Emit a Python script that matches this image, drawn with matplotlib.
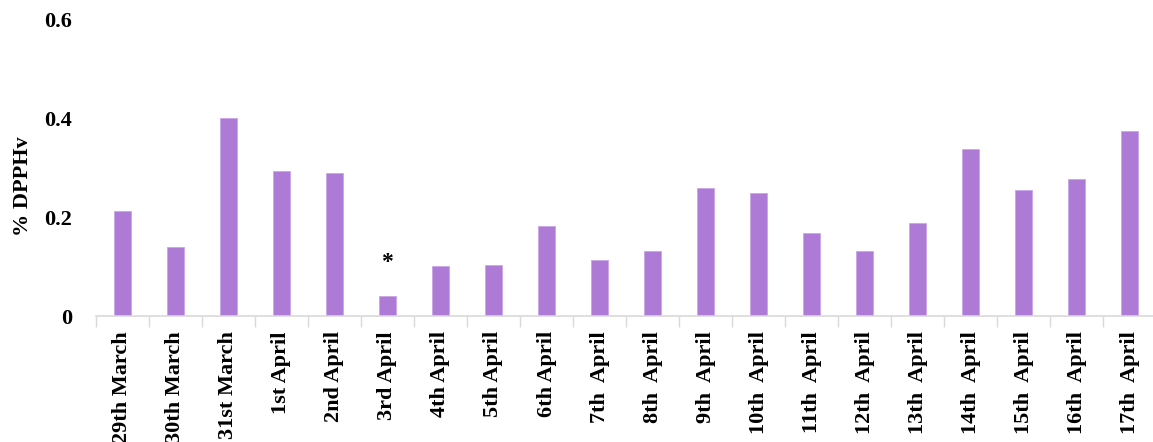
import matplotlib
matplotlib.use("Agg")
import matplotlib.pyplot as plt
import numpy as np

dates = ["29th March", "30th March", "31st March", "1st April", "2nd April",
         "3rd April", "4th April", "5th April", "6th April", "7th  April",
         "8th  April", "9th  April", "10th  April", "11th  April", "12th  April",
         "13th  April", "14th  April", "15th  April", "16th  April", "17th  April"]
dpph = [0.212, 0.139, 0.402, 0.293, 0.289, 0.040, 0.101, 0.103, 0.182, 0.113,
        0.131, 0.259, 0.250, 0.168, 0.131, 0.188, 0.339, 0.255, 0.277, 0.374]
marked = ["3rd April"]
yticks = [0, 0.2, 0.4, 0.6]
ytick_labels = ["0", "0.2", "0.4", "0.6"]

plt.rcParams["font.family"] = ["Liberation Serif", "DejaVu Serif"]
plt.rcParams["font.weight"] = "bold"

fig = plt.figure(figsize=(11.53, 4.42), dpi=100)
ax = fig.add_axes([0.083, 0.285, 0.92, 0.67])

x = np.arange(len(dates))
ax.bar(x, dpph, width=0.32, color="#AD7BD6", edgecolor="#C9A6E6", linewidth=0.6, zorder=2)

for name in marked:
    i = dates.index(name)
    ax.annotate("*", (x[i], dpph[i]), xytext=(0, 17), textcoords="offset points",
                ha="center", va="bottom", fontsize=17, fontweight="bold")

ax.set_xlim(-0.5, len(dates) - 0.5)
ax.set_ylim(0, 0.6)
ax.set_yticks(yticks)
ax.set_yticklabels(ytick_labels, fontsize=16, fontweight="bold")
ax.tick_params(axis="y", length=0, pad=17)

ax.set_xticks(x)
ax.set_xticklabels(dates, rotation=90, fontsize=16, fontweight="bold", va="top")
ax.tick_params(axis="x", which="major", length=0, pad=11)
ax.set_xticks(np.arange(-0.5, len(dates) + 0.5, 1), minor=True)
ax.tick_params(axis="x", which="minor", length=8, width=1, color="#D9D9D9")

for side in ["top", "right", "left"]:
    ax.spines[side].set_visible(False)
ax.spines["bottom"].set_color("#D9D9D9")
ax.spines["bottom"].set_linewidth(1.2)

ax.set_ylabel("% DPPHv", fontsize=16, fontweight="bold")
ax.yaxis.set_label_coords(-0.059, 0.44)

fig.savefig("out.png", dpi=100)
